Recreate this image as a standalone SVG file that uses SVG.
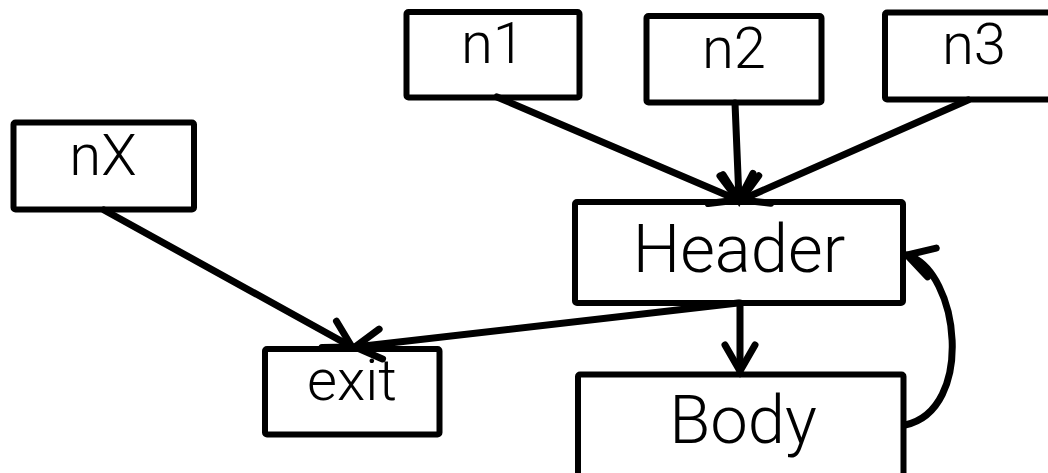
<svg xmlns="http://www.w3.org/2000/svg" width="1048" height="473" viewBox="0 0 1048 473">
  <style>
    .box { fill: #ffffff; stroke: #000000; stroke-width: 6; }
    .lbl { font-family: Roboto, "Liberation Sans", sans-serif; font-weight: 300; fill: #000000; text-anchor: middle; }
    .sm { font-size: 58px; }
    .lg { font-size: 67px; }
    .edge { fill: none; stroke: #000000; stroke-width: 7; stroke-linecap: round; marker-end: url(#arr); }
  </style>
  <defs>
    <marker id="arr" markerUnits="userSpaceOnUse" viewBox="-40 -25 50 50" markerWidth="50" markerHeight="50" refX="0" refY="0" orient="auto" overflow="visible">
      <path d="M-26,-15 L0,0 L-26,15" fill="none" stroke="#000000" stroke-width="7" stroke-linecap="round" stroke-linejoin="miter"/>
    </marker>
  </defs>
  <rect width="1048" height="473" fill="#ffffff"/>

  <g id="n1">
    <rect class="box" x="406.5" y="12" width="173" height="85.5" rx="2"/>
    <text class="lbl sm" x="493" y="63">n1</text>
  </g>
  <g id="n2">
    <rect class="box" x="646.5" y="16" width="175" height="86.5" rx="2"/>
    <text class="lbl sm" x="734" y="68">n2</text>
  </g>
  <g id="n3">
    <rect class="box" x="885" y="12.5" width="178" height="87" rx="2"/>
    <text class="lbl sm" x="974" y="64">n3</text>
  </g>
  <g id="nX">
    <rect class="box" x="13.5" y="122.5" width="180.5" height="87" rx="2"/>
    <text class="lbl sm" x="103" y="175">nX</text>
  </g>
  <g id="exit">
    <rect class="box" x="265" y="349" width="174.5" height="85.5" rx="2"/>
    <text class="lbl sm" x="352" y="400">exit</text>
  </g>
  <g id="header">
    <rect class="box" x="575" y="202" width="328" height="101" rx="2"/>
    <text class="lbl lg" x="739" y="272">Header</text>
  </g>
  <g id="body">
    <rect class="box" x="578" y="374.5" width="325.5" height="110" rx="2"/>
    <text class="lbl lg" x="743" y="443">Body</text>
  </g>

  <g id="connectors">
    <line class="edge" x1="497" y1="97" x2="738" y2="200"/>
    <line class="edge" x1="735" y1="103" x2="739" y2="200"/>
    <line class="edge" x1="968" y1="100" x2="741" y2="200"/>
    <line class="edge" x1="104" y1="210" x2="352" y2="347"/>
    <line class="edge" x1="738" y1="303" x2="355" y2="347"/>
    <line class="edge" x1="740" y1="303" x2="740" y2="371"/>
    <path class="edge" d="M905,425 C975,410 960,271 907,255"/>
  </g>
</svg>
